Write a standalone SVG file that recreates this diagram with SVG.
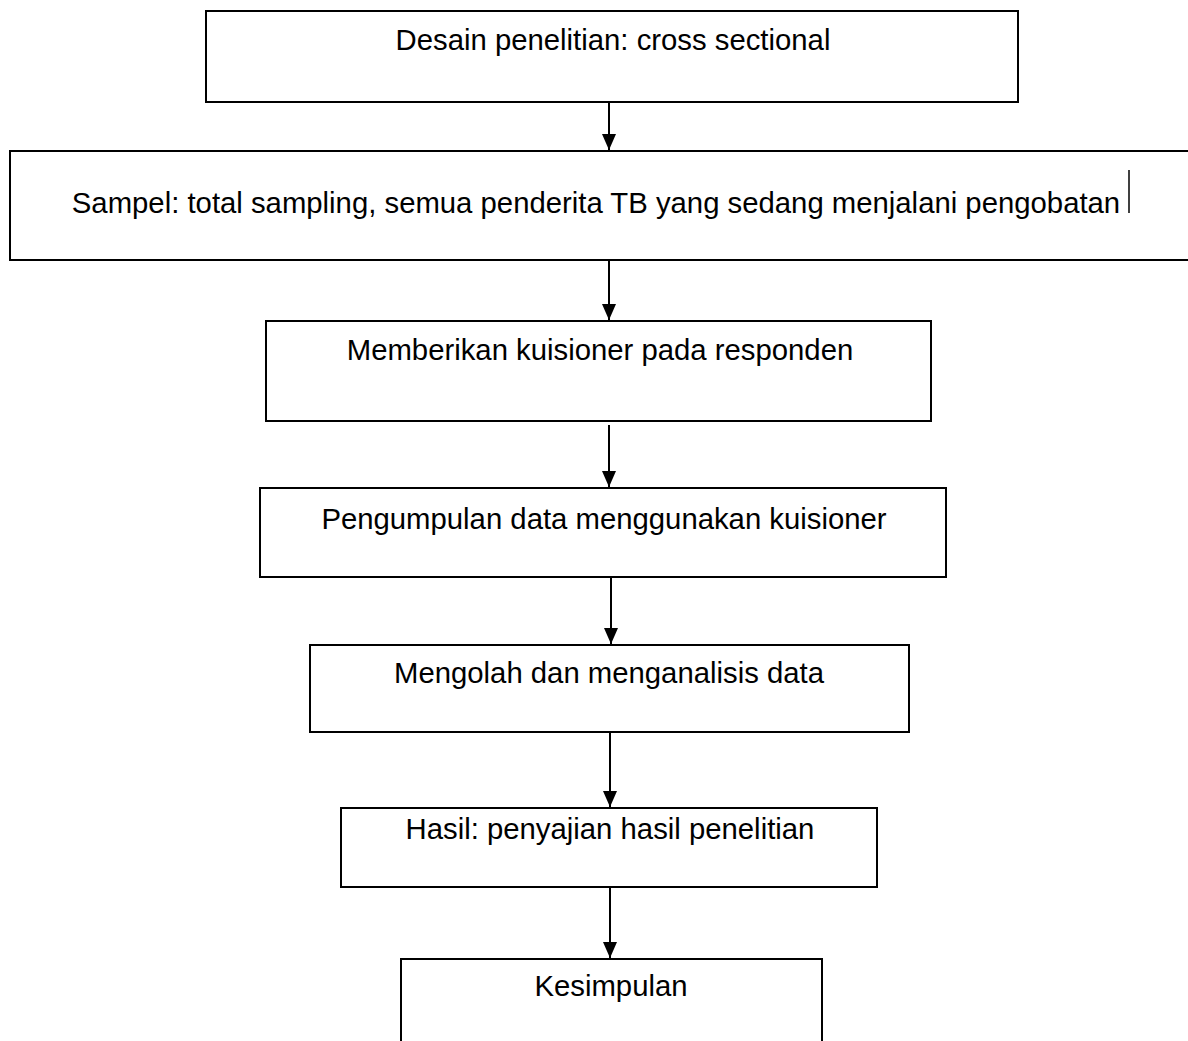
<svg xmlns="http://www.w3.org/2000/svg" width="1188" height="1041" viewBox="0 0 1188 1041">
  <style>
    .box { fill: #ffffff; stroke: #000000; stroke-width: 2; }
    .lbl { font-family: "Liberation Sans", Arial, sans-serif; font-size: 29.3px; fill: #000000; text-anchor: middle; }
    .conn { stroke: #000000; stroke-width: 2; fill: none; marker-end: url(#arrow); }
  </style>
  <defs>
    <marker id="arrow" viewBox="0 0 16 14" refX="16" refY="7" markerWidth="16" markerHeight="14" markerUnits="userSpaceOnUse" orient="auto">
      <path d="M0,0 L16,7 L0,14 z" fill="#000000"/>
    </marker>
  </defs>
  <rect width="1188" height="1041" fill="#ffffff"/>

  <g id="node-desain">
    <rect class="box" x="206" y="11" width="812" height="91"/>
    <text class="lbl" x="613" y="50">Desain penelitian: cross sectional</text>
  </g>
  <g id="node-sampel">
    <rect class="box" x="10" y="151" width="1190" height="109"/>
    <text class="lbl" x="596" y="213">Sampel: total sampling, semua penderita TB yang sedang menjalani pengobatan</text>
    <line x1="1129" y1="170" x2="1129" y2="213" stroke="#000000" stroke-width="1.5"/>
  </g>
  <g id="node-memberikan">
    <rect class="box" x="266" y="321" width="665" height="100"/>
    <text class="lbl" x="600" y="360">Memberikan kuisioner pada responden</text>
  </g>
  <g id="node-pengumpulan">
    <rect class="box" x="260" y="488" width="686" height="89"/>
    <text class="lbl" x="604" y="529">Pengumpulan data menggunakan kuisioner</text>
  </g>
  <g id="node-mengolah">
    <rect class="box" x="310" y="645" width="599" height="87"/>
    <text class="lbl" x="609" y="683">Mengolah dan menganalisis data</text>
  </g>
  <g id="node-hasil">
    <rect class="box" x="341" y="808" width="536" height="79"/>
    <text class="lbl" x="610" y="839">Hasil: penyajian hasil penelitian</text>
  </g>
  <g id="node-kesimpulan">
    <rect class="box" x="401" y="959" width="421" height="100"/>
    <text class="lbl" x="611" y="996">Kesimpulan</text>
  </g>

  <g id="connectors">
    <line class="conn" x1="609" y1="102" x2="609" y2="150"/>
    <line class="conn" x1="609" y1="260" x2="609" y2="320"/>
    <line class="conn" x1="609" y1="425" x2="609" y2="487"/>
    <line class="conn" x1="611" y1="577" x2="611" y2="644"/>
    <line class="conn" x1="610" y1="732" x2="610" y2="807"/>
    <line class="conn" x1="610" y1="887" x2="610" y2="958"/>
  </g>
</svg>
